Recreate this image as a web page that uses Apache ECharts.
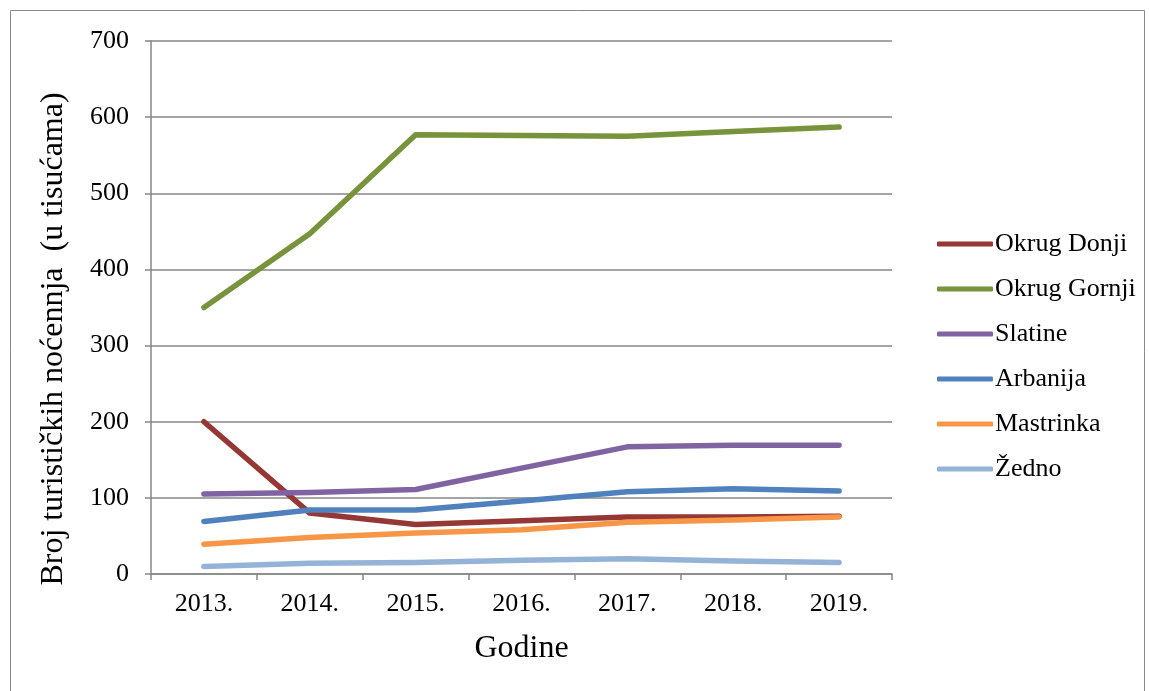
<!DOCTYPE html>
<html><head><meta charset="utf-8">
<script src="https://cdn.jsdelivr.net/npm/echarts@6/dist/echarts.min.js"></script>
<style>html,body{margin:0;padding:0;background:#fff}#c{width:1149px;height:691px}</style>
</head><body><div id="c"></div>
<script>
var categories = ['2013.', '2014.', '2015.', '2016.', '2017.', '2018.', '2019.'];
var okrugDonji = [200, 80, 65, 70, 75, 75, 76];
var okrugGornji = [350, 447, 577, 576, 575, 581, 587];
var slatine = [105, 107, 111, 139, 167, 169, 169];
var arbanija = [69, 84, 84, 96, 108, 112, 109];
var mastrinka = [39, 48, 54, 58, 68, 71, 75];
var zedno = [10, 14, 15, 18, 20, 17, 15];
var yTicks = [0, 100, 200, 300, 400, 500, 600, 700];

var seriesDefs = [
  ['Okrug Donji', okrugDonji, '#953735'],
  ['Okrug Gornji', okrugGornji, '#77933C'],
  ['Slatine', slatine, '#8064A2'],
  ['Arbanija', arbanija, '#4F81BD'],
  ['Mastrinka', mastrinka, '#F79646'],
  ['Žedno', zedno, '#95B3D7']
];
var font = '"Liberation Serif", "Times New Roman", serif';
var chart = echarts.init(document.getElementById('c'));
chart.setOption({
  animation: false,
  textStyle: {fontFamily: font},
  graphic: [{type: 'rect', shape: {x: 10.5, y: 10.5, width: 1134, height: 700}, style: {fill: 'none', stroke: '#888', lineWidth: 1}}],
  grid: {left: 151, right: 257, top: 41, bottom: 117},
  legend: {
    orient: 'vertical', left: 932, top: 226,
    icon: 'roundRect', itemWidth: 56, itemHeight: 5, itemGap: 19,
    textStyle: {fontFamily: font, fontSize: 26, color: '#000', padding: [0, 0, 0, -3]},
    data: seriesDefs.map(function (s) { return s[0]; })
  },
  xAxis: {
    type: 'category', data: categories, boundaryGap: true,
    name: 'Godine', nameLocation: 'middle', nameGap: 59,
    nameTextStyle: {fontFamily: font, fontSize: 32, color: '#000'},
    axisLine: {lineStyle: {color: '#868686', width: 1.5}},
    axisTick: {show: true, length: 6, alignWithLabel: false, lineStyle: {color: '#868686', width: 1.5}},
    axisLabel: {fontFamily: font, fontSize: 26, color: '#000', margin: 17}
  },
  yAxis: {
    type: 'value', min: yTicks[0], max: yTicks[yTicks.length - 1], interval: 100,
    name: 'Broj turističkih noćennja  (u tisućama)', nameLocation: 'middle', nameGap: 81, nameRotate: 90,
    nameTextStyle: {fontFamily: font, fontSize: 32, color: '#000', padding: [0, 63, 0, 0]},
    axisLine: {show: true, lineStyle: {color: '#868686', width: 1.5}},
    axisTick: {show: true, length: 6, lineStyle: {color: '#868686', width: 1.5}},
    axisLabel: {fontFamily: font, fontSize: 26, color: '#000', margin: 22},
    splitLine: {lineStyle: {color: '#868686', width: 1.5}}
  },
  series: seriesDefs.map(function (s) {
    return {
      name: s[0], type: 'line', data: s[1], symbol: 'none', smooth: false,
      color: s[2],
      lineStyle: {color: s[2], width: 5.5, cap: 'round', join: 'round'}
    };
  })
});
</script></body></html>
